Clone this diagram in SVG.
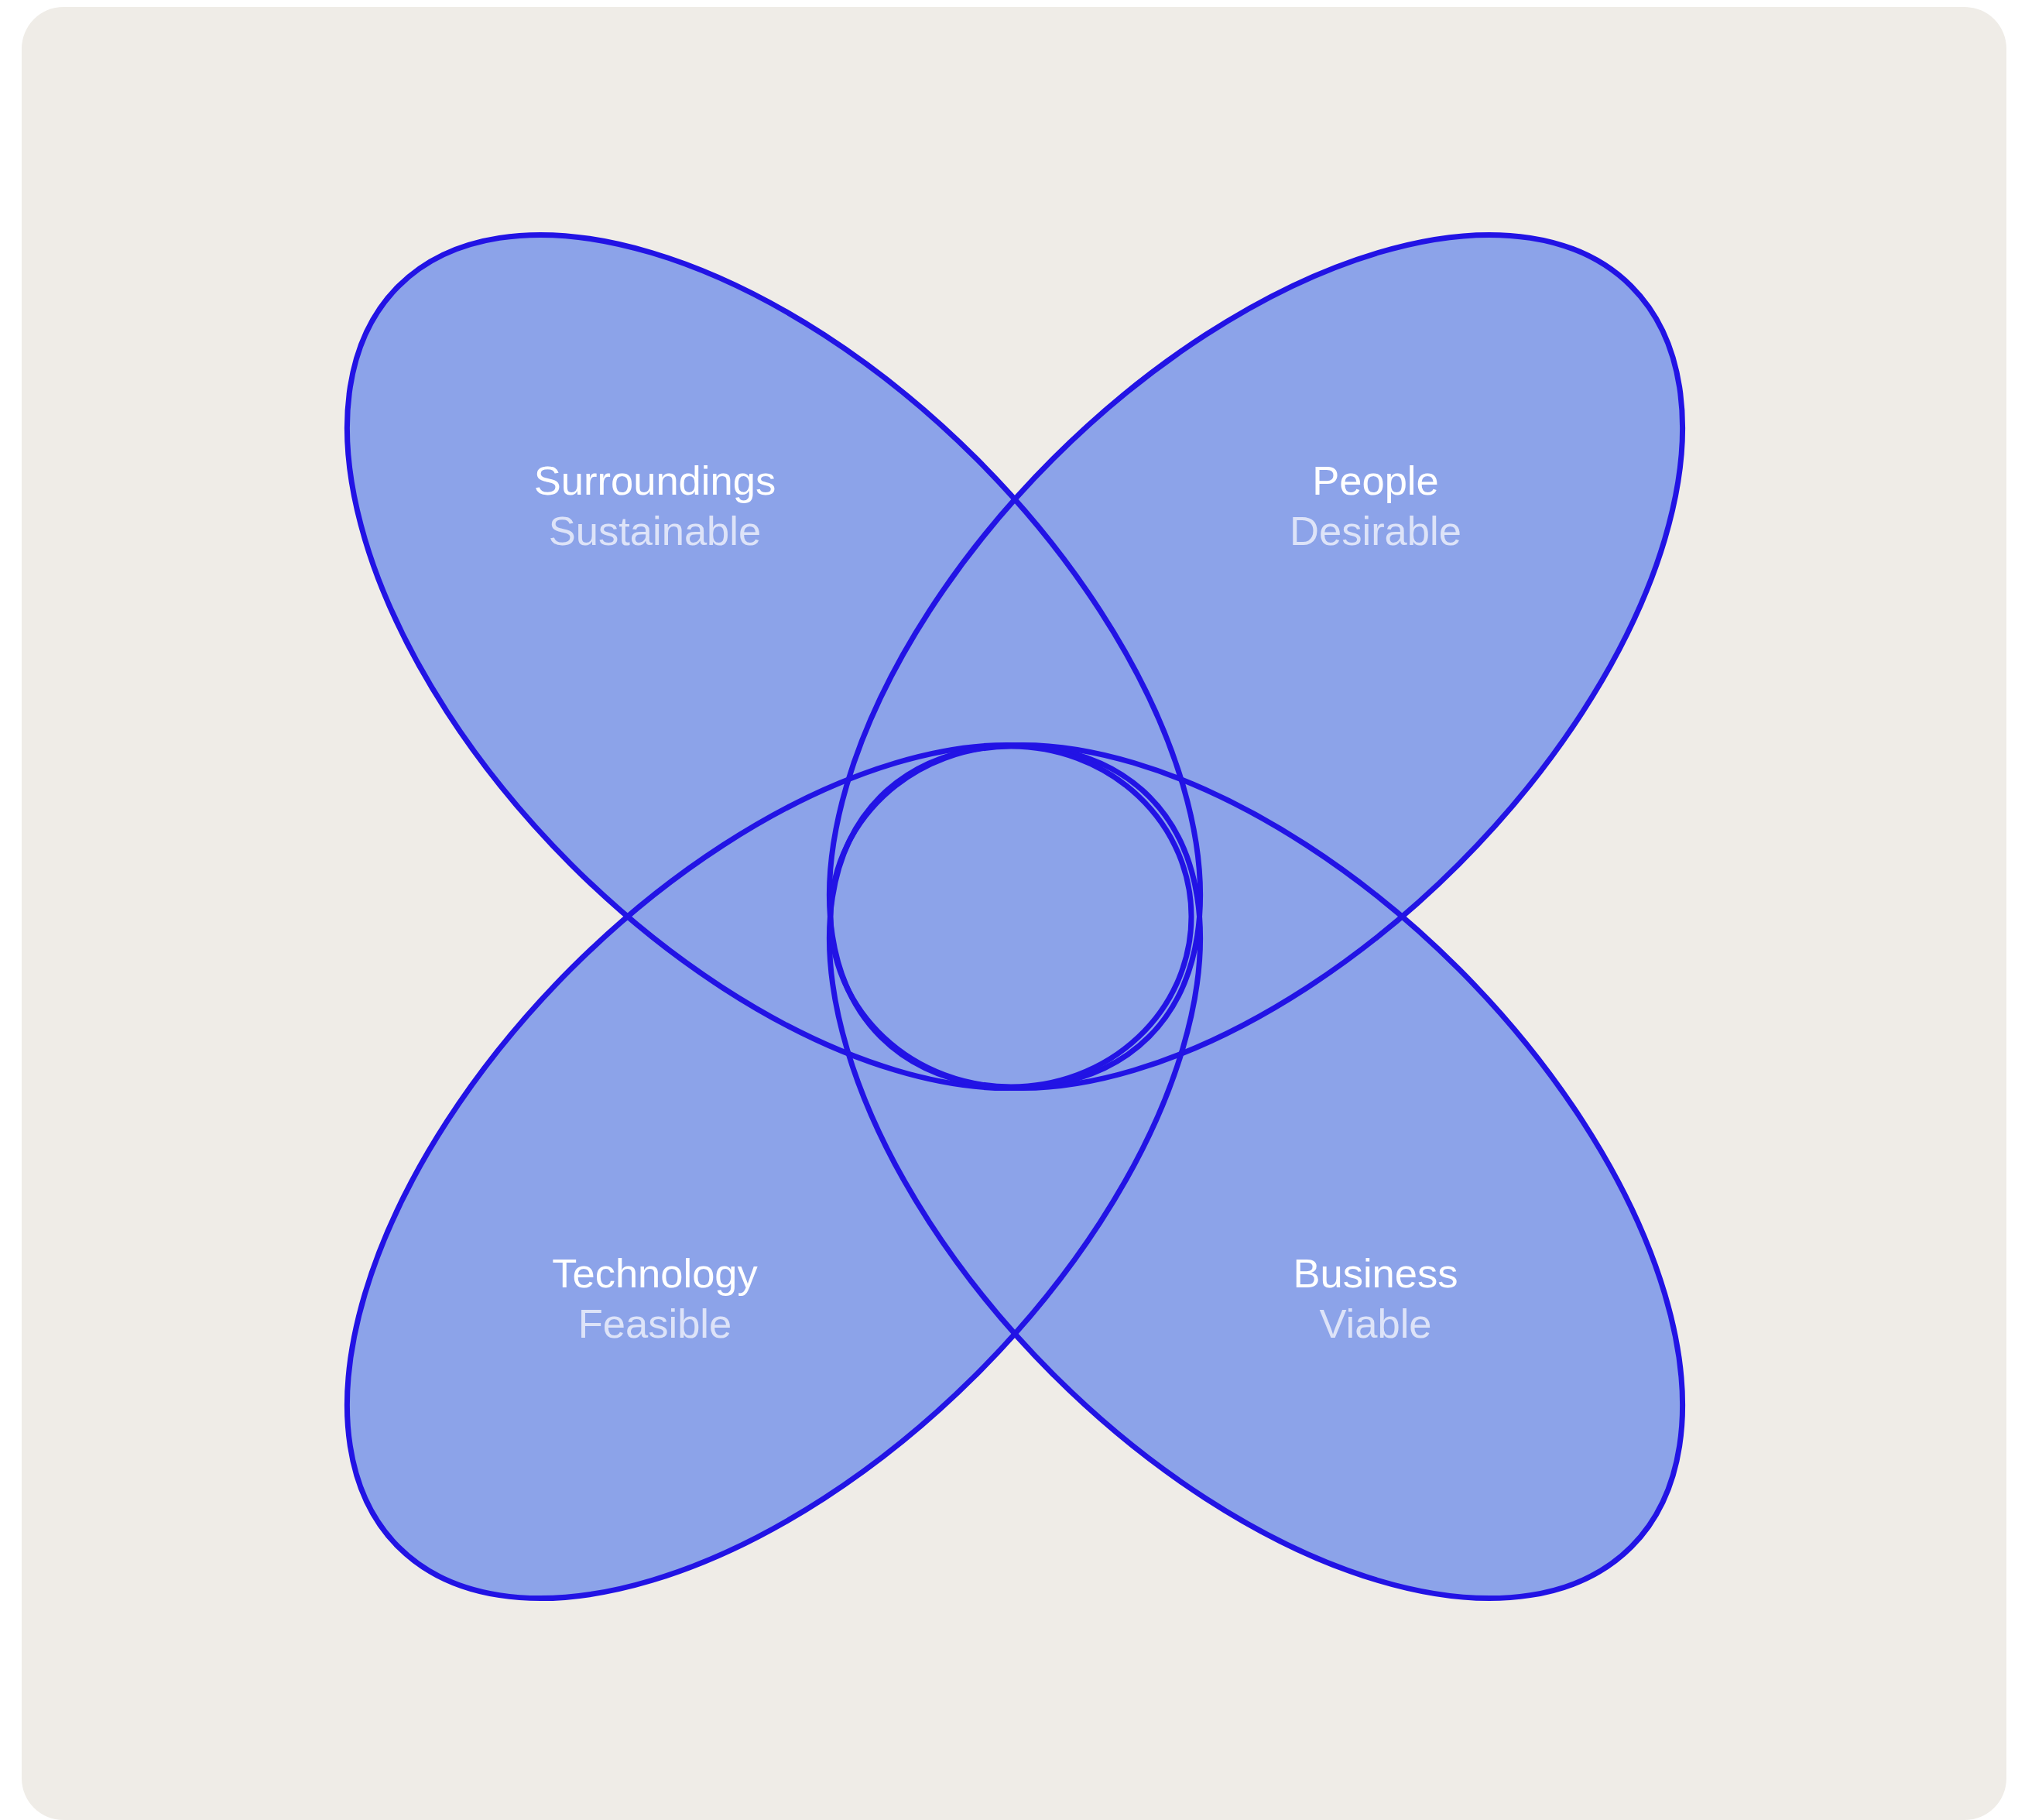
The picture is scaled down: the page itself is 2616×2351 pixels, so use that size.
<svg xmlns="http://www.w3.org/2000/svg" width="2616" height="2351" viewBox="0 0 2616 2351">
  <style>
    .fill { fill: #8CA3E9; stroke: none; }
    .outline { fill: none; stroke: #2213E5; stroke-width: 7; }
    .title { font-family: "Liberation Sans", Arial, Helvetica, sans-serif; font-size: 52.5px; fill: #FFFFFF; text-anchor: middle; }
    .sub { font-family: "Liberation Sans", Arial, Helvetica, sans-serif; font-size: 52.5px; fill: #DDE3F8; text-anchor: middle; }
  </style>
  <defs>
    <ellipse id="e-surr" cx="0" cy="0" rx="685.6" ry="370.4" transform="translate(999.5 854.5) rotate(45)"/>
    <ellipse id="e-people" cx="0" cy="0" rx="685.6" ry="370.4" transform="translate(1622.5 854.5) rotate(-45)"/>
    <ellipse id="e-tech" cx="0" cy="0" rx="685.6" ry="370.4" transform="translate(999.5 1513.5) rotate(-45)"/>
    <ellipse id="e-bus" cx="0" cy="0" rx="685.6" ry="370.4" transform="translate(1622.5 1513.5) rotate(45)"/>
    <ellipse id="e-center" cx="1306" cy="1184" rx="233" ry="220"/>
  </defs>
  <rect x="28" y="9" width="2564" height="2342" rx="54" ry="54" fill="#EFECE7"/>

  <g id="surroundings">
    <use href="#e-surr" class="fill"/>
  </g>
  <g id="people">
    <use href="#e-people" class="fill"/>
  </g>
  <g id="technology">
    <use href="#e-tech" class="fill"/>
  </g>
  <g id="business">
    <use href="#e-bus" class="fill"/>
  </g>
  <g id="center">
    <use href="#e-center" class="fill"/>
  </g>

  <g id="connectors">
    <use href="#e-surr" class="outline"/>
    <use href="#e-people" class="outline"/>
    <use href="#e-tech" class="outline"/>
    <use href="#e-bus" class="outline"/>
    <use href="#e-center" class="outline"/>
  </g>

  <g id="labels">
    <g id="label-surroundings">
      <text class="title" x="846" y="639">Surroundings</text>
      <text class="sub" x="846" y="704">Sustainable</text>
    </g>
    <g id="label-people">
      <text class="title" x="1777" y="639">People</text>
      <text class="sub" x="1777" y="704">Desirable</text>
    </g>
    <g id="label-technology">
      <text class="title" x="846" y="1663">Technology</text>
      <text class="sub" x="846" y="1728">Feasible</text>
    </g>
    <g id="label-business">
      <text class="title" x="1777" y="1663">Business</text>
      <text class="sub" x="1777" y="1728">Viable</text>
    </g>
  </g>
</svg>
